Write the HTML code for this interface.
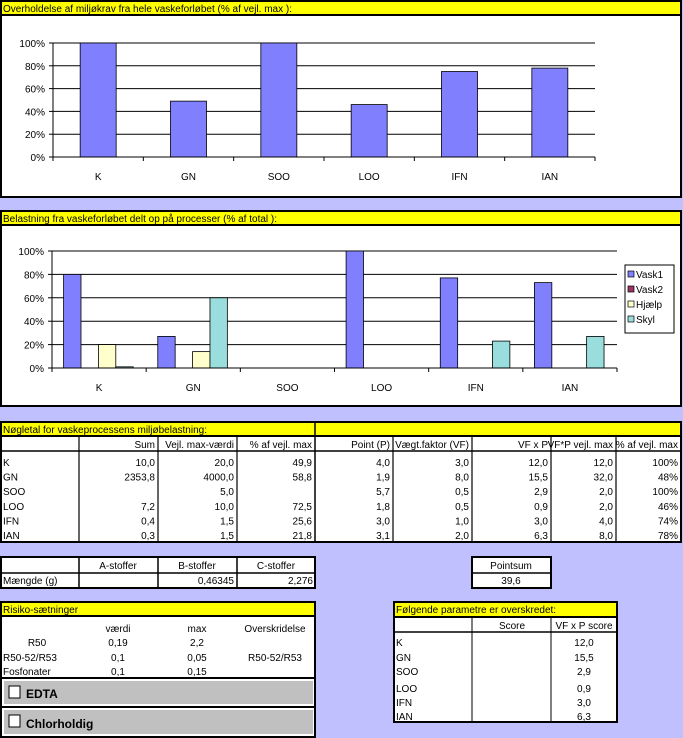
<!DOCTYPE html>
<html><head><meta charset="utf-8"><style>
html,body{margin:0;padding:0;background:#c0c0ff;}
svg{display:block;font-family:"Liberation Sans",Arial,sans-serif;font-size:10px;}
</style></head><body>
<svg id="s" width="683" height="738" xmlns="http://www.w3.org/2000/svg">
<rect x="0" y="0" width="683" height="738" fill="#c0c0ff"/>
<!-- Panel 1 -->
<g>
<rect x="1" y="1" width="680" height="196" fill="#fff" stroke="#000" stroke-width="2"/>
<rect x="1" y="1" width="680" height="14" fill="#ffff00" stroke="#000" stroke-width="2"/>
<text x="3" y="12">Overholdelse af miljøkrav fra hele vaskeforløbet (% af vejl. max ):</text>
<g id="c1"></g>
</g>
<!-- Panel 2 -->
<g>
<rect x="1" y="211" width="680" height="195" fill="#fff" stroke="#000" stroke-width="2"/>
<rect x="1" y="211" width="680" height="14" fill="#ffff00" stroke="#000" stroke-width="2"/>
<text x="3" y="222">Belastning fra vaskeforløbet delt op på processer (% af total ):</text>
<g id="c2"></g>
<g>
<rect x="625" y="265" width="49" height="68" fill="#fff" stroke="#000"/>
<g><rect x="628" y="271" width="6" height="6" fill="#8080ff" stroke="#000" stroke-width="0.7"/><text x="636" y="278">Vask1</text></g>
<g><rect x="628" y="286" width="6" height="6" fill="#993366" stroke="#000" stroke-width="0.7"/><text x="636" y="293">Vask2</text></g>
<g><rect x="628" y="301" width="6" height="6" fill="#ffffcc" stroke="#000" stroke-width="0.7"/><text x="636" y="308">Hjælp</text></g>
<g><rect x="628" y="316" width="6" height="6" fill="#99dddd" stroke="#000" stroke-width="0.7"/><text x="636" y="323">Skyl</text></g>
</g>
</g>
<!-- Key figures table -->
<g id="t1">
<rect x="1" y="422" width="680" height="120" fill="#fff" stroke="#000" stroke-width="2"/>
<rect x="1" y="422" width="680" height="14" fill="#ffff00" stroke="#000" stroke-width="2"/>
<line x1="315" y1="422" x2="315" y2="436" stroke="#000" stroke-width="1.5"/>
<text x="3" y="433">Nøgletal for vaskeprocessens miljøbelastning:</text>
<line x1="1" y1="451" x2="681" y2="451" stroke="#000" stroke-width="1.5"/>
</g>
<!-- Small table -->
<g>
<rect x="1" y="557" width="314" height="31" fill="#fff" stroke="#000" stroke-width="2"/>
<line x1="1" y1="573" x2="315" y2="573" stroke="#000" stroke-width="1.5"/>
<line x1="79" y1="557" x2="79" y2="588" stroke="#000" stroke-width="1.5"/>
<line x1="158" y1="557" x2="158" y2="588" stroke="#000" stroke-width="1.5"/>
<line x1="237" y1="557" x2="237" y2="588" stroke="#000" stroke-width="1.5"/>
<text x="118" y="569" text-anchor="middle">A-stoffer</text>
<text x="197" y="569" text-anchor="middle">B-stoffer</text>
<text x="276" y="569" text-anchor="middle">C-stoffer</text>
<text x="3" y="584">Mængde (g)</text>
<text x="234" y="584" text-anchor="end">0,46345</text>
<text x="313" y="584" text-anchor="end">2,276</text>
</g>
<g>
<rect x="472" y="557" width="79" height="31" fill="#fff" stroke="#000" stroke-width="2"/>
<line x1="472" y1="573" x2="551" y2="573" stroke="#000" stroke-width="1.5"/>
<text x="511" y="569" text-anchor="middle">Pointsum</text>
<text x="511" y="584" text-anchor="middle">39,6</text>
</g>
<!-- Risiko -->
<g>
<rect x="1" y="602" width="314" height="135" fill="#fff" stroke="#000" stroke-width="2"/>
<rect x="1" y="602" width="314" height="14" fill="#ffff00" stroke="#000" stroke-width="2"/>
<text x="3" y="613">Risiko-sætninger</text>
<text x="118" y="632" text-anchor="middle">værdi</text>
<text x="197" y="632" text-anchor="middle">max</text>
<text x="275" y="632" text-anchor="middle">Overskridelse</text>
<text x="37" y="646" text-anchor="middle">R50</text>
<text x="118" y="646" text-anchor="middle">0,19</text>
<text x="197" y="646" text-anchor="middle">2,2</text>
<text x="3" y="661">R50-52/R53</text>
<text x="118" y="661" text-anchor="middle">0,1</text>
<text x="197" y="661" text-anchor="middle">0,05</text>
<text x="275" y="661" text-anchor="middle">R50-52/R53</text>
<text x="3" y="675">Fosfonater</text>
<text x="118" y="675" text-anchor="middle">0,1</text>
<text x="197" y="675" text-anchor="middle">0,15</text>
<line x1="1" y1="678" x2="315" y2="678" stroke="#000" stroke-width="2"/>
<g>
<rect x="4" y="681" width="309" height="23" fill="#c0c0c0"/>
<rect x="9" y="686" width="11" height="12" fill="#fff" stroke="#000"/>
<text x="26" y="698" font-weight="bold" font-size="12">EDTA</text>
</g>
<line x1="1" y1="707" x2="315" y2="707" stroke="#000" stroke-width="2"/>
<g>
<rect x="4" y="710" width="309" height="24" fill="#c0c0c0"/>
<rect x="9" y="715" width="11" height="12" fill="#fff" stroke="#000"/>
<text x="26" y="728" font-weight="bold" font-size="12">Chlorholdig</text>
</g>
</g>
<!-- Exceeded params -->
<g>
<rect x="394" y="602" width="223" height="120" fill="#fff" stroke="#000" stroke-width="2"/>
<rect x="394" y="602" width="223" height="15" fill="#ffff00" stroke="#000" stroke-width="2"/>
<text x="396" y="613">Følgende parametre er overskredet:</text>
<line x1="394" y1="632" x2="617" y2="632" stroke="#000" stroke-width="1.5"/>
<line x1="472" y1="617" x2="472" y2="722" stroke="#000"/>
<line x1="551" y1="617" x2="551" y2="722" stroke="#000"/>
<text x="512" y="629" text-anchor="middle">Score</text>
<text x="584" y="629" text-anchor="middle">VF x P score</text>
<g id="ex"></g>
</g>
</svg>
<script>
const NS="http://www.w3.org/2000/svg";
function mk(p,t,a,txt){const e=document.createElementNS(NS,t);for(const k in a)e.setAttribute(k,a[k]);if(txt!==undefined)e.textContent=txt;p.appendChild(e);return e;}
// Chart 1 data
const cats=["K","GN","SOO","LOO","IFN","IAN"];
const compliance=[100,49,100,46,75,78];
const yTicks=["0%","20%","40%","60%","80%","100%"];
// Chart 2 data
const vask1=[80,27,0,100,77,73];
const vask2=[0,0,0,0,0,0];
const hjaelp=[20,14,0,0,0,0];
const skyl=[1,60,0,0,23,27];

function axes(g,x0,x1,yTop,y0){
  const sc=v=>y0-(y0-yTop)*v/100;
  yTicks.forEach((t,i)=>{const y=sc(i*20);
    const l=mk(g,"line",{x1:x0,x2:x1,y1:y,y2:y,stroke:"#000","stroke-width":1});
    
    
    const tx=mk(g,"text",{x:x0-8,y:y+4,"text-anchor":"end"},t);
    
    
    mk(g,"line",{x1:x0-4,x2:x0,y1:y,y2:y,stroke:"#000"});
  });
  mk(g,"line",{x1:x0,x2:x0,y1:yTop,y2:y0,stroke:"#000"});
  const w=(x1-x0)/cats.length;
  for(let i=0;i<=cats.length;i++)mk(g,"line",{x1:x0+i*w,x2:x0+i*w,y1:y0,y2:y0+4,stroke:"#000"});
  return {sc,w};
}
// Chart 1
(function(){
  const g=document.getElementById("c1");const x0=53,x1=595,yTop=43,y0=157;
  const {sc,w}=axes(g,x0,x1,yTop,y0);
  cats.forEach((c,i)=>{const cx=x0+w*(i+0.5);const bw=36;
    const r=mk(g,"rect",{x:cx-bw/2,y:sc(compliance[i]),width:bw,height:y0-sc(compliance[i]),fill:"#8080ff",stroke:"#000","stroke-width":0.8});
    
    
    const t=mk(g,"text",{x:cx,y:180,"text-anchor":"middle"},c);
    
    
  });
  mk(g,"line",{x1:x0,x2:x1,y1:y0,y2:y0,stroke:"#000"});
})();
// Chart 2
(function(){
  const g=document.getElementById("c2");const x0=52,x1=617,yTop=251,y0=368;
  const {sc,w}=axes(g,x0,x1,yTop,y0);
  const series=[[vask1,"#8080ff","vask1"],[vask2,"#993366","vask2"],[hjaelp,"#ffffcc","hjaelp"],[skyl,"#99dddd","skyl"]];
  const bw=17.4,off=11.6;
  cats.forEach((c,i)=>{
    series.forEach((s,j)=>{const v=s[0][i];if(v<=0)return;
      const r=mk(g,"rect",{x:x0+w*i+off+j*bw,y:sc(v),width:bw,height:y0-sc(v),fill:s[1],stroke:"#000","stroke-width":0.8});
      
      
    });
    const t=mk(g,"text",{x:x0+w*(i+0.5),y:391,"text-anchor":"middle"},c);
    
    
  });
  mk(g,"line",{x1:x0,x2:x1,y1:y0,y2:y0,stroke:"#000"});
})();
// Table
const colX=[1,79,158,237,315,393,472,551,616,681];
const heads=["","Sum","Vejl. max-værdi","% af vejl. max","Point (P)","Vægt.faktor (VF)","VF x P","VF*P vejl. max","% af vejl. max"];
const rows=[
["K","10,0","20,0","49,9","4,0","3,0","12,0","12,0","100%"],
["GN","2353,8","4000,0","58,8","1,9","8,0","15,5","32,0","48%"],
["SOO","","5,0","","5,7","0,5","2,9","2,0","100%"],
["LOO","7,2","10,0","72,5","1,8","0,5","0,9","2,0","46%"],
["IFN","0,4","1,5","25,6","3,0","1,0","3,0","4,0","74%"],
["IAN","0,3","1,5","21,8","3,1","2,0","6,3","8,0","78%"]];
(function(){
  const g=document.getElementById("t1");
  for(let i=1;i<colX.length-1;i++)mk(g,"line",{x1:colX[i],x2:colX[i],y1:436,y2:542,stroke:"#000","stroke-width":i==4?1.5:1.2});
  heads.forEach((h,i)=>{if(h)mk(g,"text",{x:colX[i+1]-3,y:448,"text-anchor":"end"},h);});
  rows.forEach((r,ri)=>{const y=466+ri*14.6;
    const row=mk(g,"g",{});
    
    
    r.forEach((v,i)=>{if(i==0)mk(row,"text",{x:3,y:y},v);else if(v)mk(row,"text",{x:colX[i+1]-3,y:y,"text-anchor":"end"},v);});
  });
  const ex=document.getElementById("ex");
  const exY=[646,661,675,692,706,720];
  rows.forEach((r,ri)=>{mk(ex,"text",{x:396,y:exY[ri]},r[0]);mk(ex,"text",{x:584,y:exY[ri],"text-anchor":"middle"},r[6]);});
})();
</script>
</body></html>
